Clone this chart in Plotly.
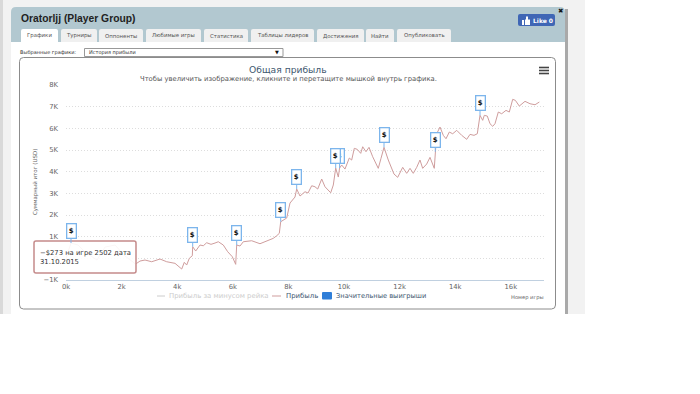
import plotly.graph_objects as go

games = [0,108,180,432,683,1115,1403,1763,2122,2410,2502,2543,2662,2842,3082,3381,3622,3921,4162,4255,4341,4435,4543,4557,4665,4820,4939,5061,5216,5360,5478,5658,5816,5982,6104,6140,6259,6378,6680,6978,7219,7457,7579,7673,7723,7816,7939,8057,8237,8298,8417,8597,8705,8838,8956,9054,9198,9316,9521,9615,9701,9795,9841,9917,10035,10190,10276,10370,10478,10601,10673,10791,10899,11032,11233,11331,11439,11593,11798,11931,12111,12255,12374,12492,12615,12733,12830,12974,13093,13247,13283,13334,13453,13572,13669,13788,13910,14054,14234,14414,14532,14676,14795,14892,14989,15047,15155,15252,15349,15431,15550,15672,15827,15946,16068,16163,16306,16511,16691,16871,17026]
profit = [0,383,706,614,290,-80,520,614,106,-170,-273,-231,-125,-78,-157,-32,-157,-231,-494,-185,-309,0,120,535,337,614,581,720,646,706,766,614,305,74,-277,614,568,766,812,674,798,923,1043,1154,1689,1767,1860,2552,2829,3198,2875,3074,3014,3350,3304,3198,3660,3304,3027,3383,4167,3752,4167,4306,4121,4629,4536,5077,5030,4846,5150,4920,5123,4689,4154,4615,5123,4537,3890,3738,4200,3923,4154,3923,4200,4537,4154,4352,4661,4154,4920,5750,6060,5676,5520,5828,5750,5907,5676,5492,5722,5676,5750,6600,6369,6600,6567,6212,6092,6212,6752,6673,6830,6752,7338,7292,7029,7246,7135,7089,7214]
flag_games = [180,4557,6140,7723,8298,9841,9701,11439,13283,14892]
flag_values = [706,535,614,1689,3198,4167,4167,5123,4920,6600]
x_ticks = [0,2000,4000,6000,8000,10000,12000,14000,16000]
x_labels = ["0k","2k","4k","6k","8k","10k","12k","14k","16k"]
y_ticks = [-1000,0,1000,2000,3000,4000,5000,6000,7000,8000]
y_labels = ["−1K","0","1K","2K","3K","4K","5K","6K","7K","8K"]
tabs = ["Графики","Турниры","Оппоненты","Любимые игры","Статистика","Таблицы лидеров","Достижения","Найти","Опубликовать"]
tab_edges = [(21,58),(61,97),(99,143),(146,201),(204,248),(251,314),(317,364),(366,394),(397,451)]

W, H = 700, 394
FONT = "DejaVu Sans"
LINE = "#cf9d9d"
shapes, notes = [], []

def rect(x0, y0, x1, y1, fill, line=None, lw=1):
    shapes.append(dict(type="rect", xref="paper", yref="paper", layer="below",
                       x0=x0/W, x1=x1/W, y0=1-y0/H, y1=1-y1/H, fillcolor=fill,
                       line=dict(color=line or fill, width=lw if line else 0)))

def rrect(x0, y0, x1, y1, r, fill, line=None, lw=1, top_only=False, layer="below"):
    X = lambda v: v/W
    Y = lambda v: 1-v/H
    if top_only:
        p = (f"M{X(x0)},{Y(y1)} L{X(x0)},{Y(y0+r)} Q{X(x0)},{Y(y0)} {X(x0+r)},{Y(y0)} "
             f"L{X(x1-r)},{Y(y0)} Q{X(x1)},{Y(y0)} {X(x1)},{Y(y0+r)} L{X(x1)},{Y(y1)} Z")
    else:
        p = (f"M{X(x0+r)},{Y(y0)} L{X(x1-r)},{Y(y0)} Q{X(x1)},{Y(y0)} {X(x1)},{Y(y0+r)} "
             f"L{X(x1)},{Y(y1-r)} Q{X(x1)},{Y(y1)} {X(x1-r)},{Y(y1)} L{X(x0+r)},{Y(y1)} "
             f"Q{X(x0)},{Y(y1)} {X(x0)},{Y(y1-r)} L{X(x0)},{Y(y0+r)} Q{X(x0)},{Y(y0)} {X(x0+r)},{Y(y0)} Z")
    shapes.append(dict(type="path", path=p, xref="paper", yref="paper", layer=layer,
                       fillcolor=fill, line=dict(color=line or fill, width=lw if line else 0)))

def text(x, y, s, size=7, color="#444", anchor="left", font=FONT, **kw):
    notes.append(dict(text=s, x=x/W, y=1-y/H, xref="paper", yref="paper", showarrow=False,
                      xanchor=anchor, yanchor="middle", borderpad=0,
                      font=dict(family=font, size=size, color=color), **kw))

# page chrome
rect(0, 0, 585, 314, "#f2f2f2")
rect(0, 0, 3, 314, "#d9d9d9")
rect(565, 9, 568, 314, "#a9a9a9")
rrect(11, 7, 565, 314, 5, "#b2c8d0", top_only=True)
rect(11, 42, 565, 314, "#ffffff")
for i, (name, (a, b)) in enumerate(zip(tabs, tab_edges)):
    rrect(a, 29, b, 42, 2, "#ffffff" if i == 0 else "#f0f0f0", top_only=True)
    text((a+b)/2, 35.5, name, size=5.4, color="#555", anchor="center")
text(20, 18, "<b>Oratorljj (Player Group)</b>", size=10.3, color="#222", font="Liberation Sans")
# like button
rrect(518, 14, 555, 26, 2, "#3f66b5")
rect(522, 20, 524, 25, "#ffffff")
rect(525, 19.5, 530, 25, "#ffffff")
rect(526, 16.5, 528, 20, "#ffffff")
text(532, 20.5, "<b>Like 0</b>", size=6, color="#ffffff")
text(560, 11.5, "<b>✖</b>", size=6.5, color="#111", anchor="center")
# selector
text(19, 52.5, "Выбранные графики:", size=5, color="#333")
rect(84.5, 48.5, 283, 56.5, "#ffffff", "#999999")
text(88, 52.5, "История прибыли", size=5, color="#333")
text(277, 52.5, "▼", size=5, color="#111", anchor="center")
# chart card
rrect(19.5, 57.5, 555.5, 309, 4, "#ffffff", "#8c8c8c")
# burger menu
for yy in (67.5, 70.5, 73.5):
    rect(539, yy-0.8, 549, yy+0.8, "#444444")

# chart titles
text(288, 69, "Общая прибыль", size=9.2, color="#3e576f", anchor="center")
text(288, 79, "Чтобы увеличить изображение, кликните и перетащите мышкой внутрь графика.", size=6.8, color="#555", anchor="center")
notes.append(dict(text="Суммарный итог (USD)", x=36/W, y=1-182/H, xref="paper", yref="paper", showarrow=False,
                  xanchor="center", textangle=-90, font=dict(family=FONT, size=5.5, color="#666")))
text(545, 297, "Номер игры", size=5.2, color="#666", anchor="right")

# hand-built legend
shapes.append(dict(type="line", xref="paper", yref="paper", layer="below", x0=157/W, x1=165/W, y0=1-296/H, y1=1-296/H, line=dict(color="#cccccc", width=1)))
text(168, 296, "Прибыль за минусом рейка", size=6.9, color="#cccccc")
shapes.append(dict(type="line", xref="paper", yref="paper", layer="below", x0=272/W, x1=281/W, y0=1-296/H, y1=1-296/H, line=dict(color=LINE, width=1)))
text(285, 296, "Прибыль", size=6.9, color="#3e576f")
rrect(322, 292, 332, 299.5, 1, "#2f7ed8")
text(335, 296, "Значительные выигрыши", size=6.7, color="#3e576f")

# flags
for g, v in zip(flag_games, flag_values):
    notes.append(dict(x=g, y=v, xref="x", yref="y", text="<b>$</b>", showarrow=True, arrowhead=0,
                      arrowcolor="#7cb5ec", arrowwidth=1, ax=0, ay=-12, standoff=0,
                      bgcolor="#ffffff", bordercolor="#7cb5ec", borderwidth=1.3, borderpad=1,
                      width=6, height=11, font=dict(family=FONT, size=7, color="#111")))

# tooltip
rrect(34, 241, 136, 273, 2, "rgba(255,255,255,0.9)", "#c58b8b", lw=1.5, layer="above")
notes.append(dict(x=39/W, y=1-257/H, xref="paper", yref="paper", xanchor="left", yanchor="middle",
                  text="−$273 на игре 2502 дата<br>31.10.2015", align="left", showarrow=False,
                  borderpad=0, font=dict(family=FONT, size=6.8, color="#333")))

fig = go.Figure()
fig.add_trace(go.Scatter(x=games, y=profit, mode="lines", name="Прибыль",
                         line=dict(color=LINE, width=1), hoverinfo="skip"))

fig.update_layout(
    width=W, height=H, margin=dict(l=0, r=0, t=0, b=0, pad=0, autoexpand=False), autosize=False,
    paper_bgcolor="#ffffff", plot_bgcolor="rgba(0,0,0,0)", showlegend=False,
    shapes=shapes, annotations=notes,
    xaxis=dict(domain=[66/W, 544/W], range=[0, 17194], tickvals=x_ticks, ticktext=x_labels, automargin=False,
               showgrid=False, zeroline=False, showline=True, linecolor="#c0d0e0", linewidth=1,
               ticks="", tickfont=dict(family=FONT, size=6.8, color="#666")),
    yaxis=dict(domain=[1-280/H, 1-85/H], range=[-1000, 8000], tickvals=y_ticks, ticktext=y_labels, automargin=False,
               showgrid=True, gridcolor="#dddddd", griddash="1px,2px", gridwidth=1, zeroline=False,
               showline=False, ticks="", ticklabelstandoff=7,
               tickfont=dict(family=FONT, size=6.8, color="#666")),
)
fig.write_html("out.html", config=dict(displayModeBar=False),
               post_script="document.body.style.margin='0';document.documentElement.style.overflow='hidden';")
